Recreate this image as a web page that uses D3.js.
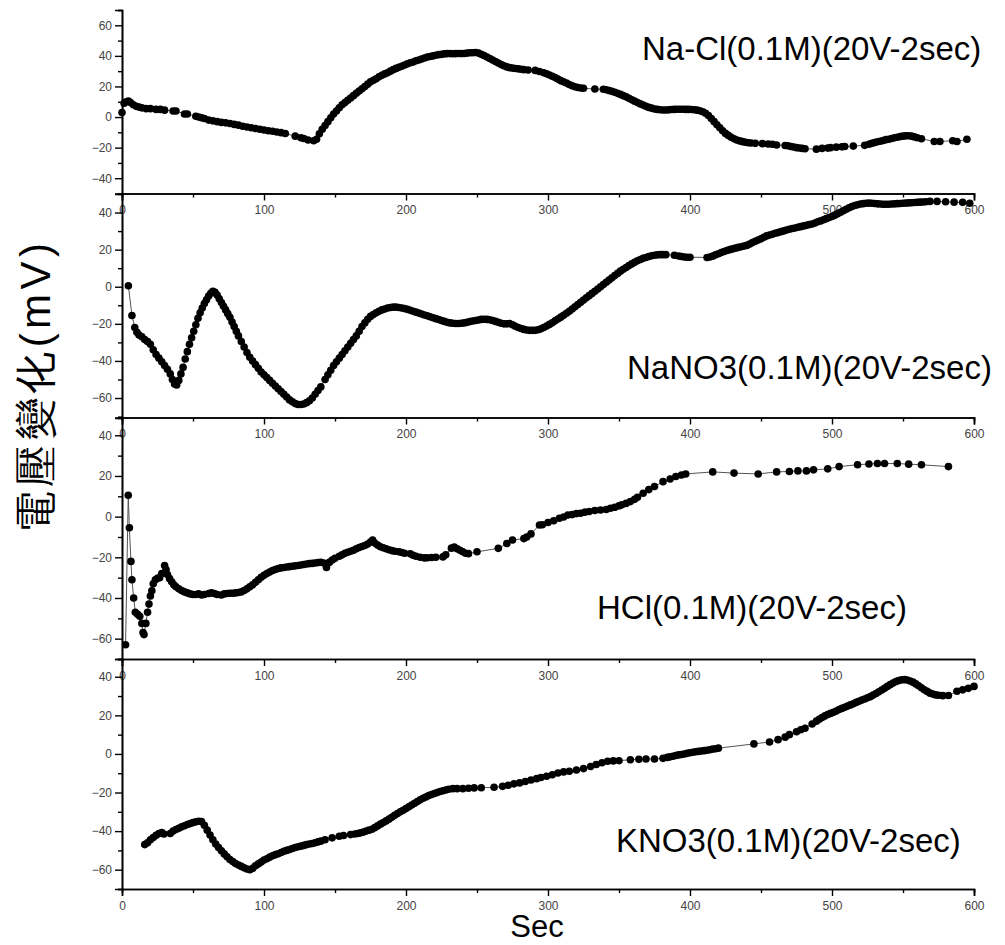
<!DOCTYPE html>
<html>
<head>
<meta charset="utf-8">
<script src="https://cdn.jsdelivr.net/npm/d3@7"></script>
<style>
  html, body { margin: 0; padding: 0; background: #fff; }
  svg { display: block; }
  text { font-family: "Liberation Sans", Arial, sans-serif; }
</style>
</head>
<body>
<svg id="chart" width="1005" height="945"></svg>
<script>
// ---------------- DATA ----------------
const seriesNames = ["Na-Cl(0.1M)(20V-2sec)", "NaNO3(0.1M)(20V-2sec)", "HCl(0.1M)(20V-2sec)", "KNO3(0.1M)(20V-2sec)"];
const xLabel = "Sec";
const yLabel = "電壓變化(mV)";
const xTicks = [0, 100, 200, 300, 400, 500, 600];
const xMinorTicks = [50, 150, 250, 350, 450, 550];
const yTicksTop = [-40, -20, 0, 20, 40, 60];
const yMinorTop = [-50, -30, -10, 10, 30, 50, 70];
const yTicksLower = [-60, -40, -20, 0, 20, 40];
const yMinorLower = [-70, -50, -30, -10, 10, 30];
const yDomains = [[-50, 70], [-70.5, 50], [-70, 48.5], [-70, 49.2]];

const nacl = [[0,3],[1.5,9],[3,10],[4.5,10.5],[6,9.5],[8,8],[10,7],[12,6.5],[14,6],[17,5.5],[20,5.5],[24,5],[27,5],[30,4.5],[36,4],[38,4],[44,2],[46,2],[52,0.5],[54,0],[56,-0.5],[58,-1],[61,-2],[64,-2.5],[67,-3],[70,-3.5],[73,-3.8],[76,-4.2],[79,-4.8],[82,-5.3],[85,-6],[88,-6.5],[91,-7],[94,-7.5],[97,-8],[100,-8.5],[103,-9],[106,-9.3],[109,-9.8],[112,-10.2],[115,-10.8],[122,-12.5],[126,-13.5],[128,-14],[131,-15],[135,-15.5],[137,-14.5],
[139,-11],[141,-8],[143,-5.5],[145,-3],[147,-0.5],[149,2],[151,4],[153,6],[155,8],[157,9.5],[159,11],[161,12.5],[163,14],[165,15.5],[167,17],[169,18.5],[171,20],[173,21.5],[175,23],[177,24],[179,25],[181,26.3],[183,27.3],[185,28.2],[187,29],[189,30],[191,31],[193,31.8],[195,32.5],[197,33.2],[199,34],[201,34.8],[203,35.5],[205,36],[207,36.8],[209,37.3],[211,38],[213,38.6],[215,39.2],[217,39.6],[219,40],[221,40.4],[223,40.8],[225,41],[227,41.3],[229,41.5],[231,41.5],[233,41.4],[235,41.5],[237,41.6],[239,41.5],[241,41.6],[243,41.8],[245,42],[247,42],[249,42.2],[251,41.8],[253,41],[255,40.2],[257,39.3],[259,38.3],[261,37.3],[263,36.3],[265,35.3],[267,34.3],[269,33.5],[271,32.8],[273,32.3],[275,32],[277,31.7],[279,31.5],[281,31.3],[283,31],[286,30.8],[291,30.5],[294,29.8],[297,29],[299,28.3],[301,27.5],[303,26.7],[305,25.8],[307,24.8],[309,23.8],[311,23],[313,22.2],[315,21.3],[317,20.5],[319,19.8],[321,19.3],[323,19],[325,18.8],[333,18.3],[339,18.2],[341,17.8],[343,17.3],[345,16.8],[347,16.2],[349,15.5],[351,14.8],[353,14],[355,13.2],[357,12.3],[359,11.3],[361,10.4],[363,9.5],[365,8.6],[367,7.8],[369,7],[371,6.3],[373,5.8],[375,5.3],[377,5],[379,4.8],[381,4.6],[383,4.6],[385,4.7],[387,4.9],[389,5],[391,5.1],[393,5.1],[395,5.1],[397,5],[399,5],[401,4.9],[403,4.8],[405,4.5],[407,4.1],[409,3.5],[411,2.5],[413,1],[415,-1],[417,-3],[419,-5],[421,-7],[423,-9],[425,-10.7],[427,-12],[429,-13.2],[431,-14.2],[433,-15],[435,-15.6],[437,-16.1],[439,-16.5],[441,-16.8],[443,-17],[446,-17.2],[451,-17.4],[455,-17.6],[458,-17.8],[461,-18.3],[467,-18.6],[469,-18.8],[471,-19.3],[473,-19.6],[475,-20],[477,-20.2],[479,-20.5],[481,-20.7],[489,-21],[493,-20.5],[497,-20.3],[499,-20],[503,-19.7],[507,-19.5],[509,-19.3],[515,-19],[523,-18.5],[526,-17.8],[528,-17.2],[530,-16.7],[532,-16.2],[534,-15.8],[536,-15.3],[538,-14.8],[540,-14.5],[542,-14],[544,-13.5],[546,-13.2],[548,-12.8],[550,-12.5],[552,-12.3],[554,-12.2],[556,-12.5],[558,-13],[560,-13.5],[563,-14.2],[572,-16],[576,-16],[585,-15.5],[588,-16],[595,-14.5]];

const nano3 = [[4.5,0.5],[7,-15.5],[9,-22],[10.5,-24.5],[12,-26],[14,-27],[16,-28.5],[18,-29.5],[20,-31],[22,-34],[24,-36.5],[26,-38.5],[28,-40.5],[30,-42.5],[32,-44.5],[34,-47],[35.5,-50],[37,-52.5],[38.5,-53],[40,-50.5],[41.5,-47],[43,-43.5],[44.5,-39],[46,-35],[47.5,-31],[49,-27.5],[50.5,-24],[52,-20.5],[53.5,-17],[55,-14],[56.5,-11.5],[58,-9],[59.5,-7],[61,-5],[62.5,-3.5],[64,-2.5],[65.5,-3],[67,-4.5],[68.5,-6.5],[70,-8.5],[71.5,-10.5],[73,-12.5],[74.5,-14.5],[76,-16.5],[77.5,-19],[79,-21.5],[80.5,-24],[82,-26.5],[84,-29.5],[86,-32.5],[88,-35.5],[90,-38],[92,-40],[94,-42],[96,-44],[98,-46],[100,-47.5],[102,-49],[104,-50.5],[106,-52],[108,-53.5],[110,-55],[112,-56.5],[114,-58],[116,-59.5],[118,-61],[120,-62],[122,-63],[124,-63.5],[126,-63.5],[128,-63.2],[130,-62.5],[132,-61.5],[134,-60],[136,-58],[138,-56],[140,-54],[143,-50],[145,-47.5],[147,-45],[149,-42.5],[151,-40.5],[153,-38.5],[155,-36.5],[157,-34.5],[159,-32.5],[161,-30.5],[163,-28.5],[165,-26.5],[167,-24],[169,-21.5],[171,-19.5],[173,-17.5],[175,-16],[177,-15],[179,-14],[181,-13.2],[183,-12.5],[185,-12],[187,-11.5],[189,-11.2],[191,-11],[193,-11],[195,-11.2],[197,-11.5],[199,-11.8],[201,-12.2],[203,-12.7],[205,-13.2],[207,-13.7],[209,-14.2],[211,-14.7],[213,-15.2],[215,-15.7],[217,-16.2],[219,-16.7],[221,-17.2],[223,-17.7],[225,-18.2],[227,-18.7],[229,-19.2],[231,-19.5],[233,-19.7],[235,-19.8],[237,-19.8],[239,-19.7],[241,-19.5],[243,-19.2],[245,-18.8],[247,-18.5],[249,-18.2],[251,-17.9],[253,-17.6],[255,-17.5],[257,-17.6],[259,-17.8],[261,-18.2],[263,-18.7],[265,-19.2],[267,-19.7],[269,-20],[271,-20],[273,-19.8],[275,-20.5],[277,-21.3],[279,-22],[281,-22.5],[283,-23],[285,-23.3],[287,-23.5],[289,-23.5],[291,-23.5],[293,-23.2],[295,-22.7],[297,-22],[299,-21.2],[301,-20.3],[303,-19.4],[305,-18.4],[307,-17.4],[309,-16.4],[311,-15.4],[313,-14.3],[315,-13.2],[317,-12],[319,-10.8],[321,-9.6],[323,-8.4],[325,-7.2],[327,-6],[329,-4.8],[331,-3.6],[333,-2.4],[335,-1.2],[337,0],[339,1.2],[341,2.4],[343,3.6],[345,4.8],[347,6],[349,7.2],[351,8.4],[353,9.4],[355,10.4],[357,11.4],[359,12.3],[361,13.2],[363,14],[365,14.7],[367,15.3],[369,15.8],[371,16.3],[373,16.7],[375,17],[377,17.2],[379,17.3],[381,17.3],[383,17.3],[389,17],[392,16.6],[394,16.3],[396,16],[398,15.9],[400,15.9],[412,15.8],[414,16],[416,16.5],[418,17.2],[420,17.8],[422,18.5],[424,19],[426,19.5],[428,20],[430,20.4],[432,20.8],[434,21.2],[436,21.6],[438,21.9],[440,22.3],[442,23],[444,23.8],[446,24.5],[448,25.2],[450,25.9],[452,26.7],[454,27.4],[456,27.9],[458,28.3],[460,28.8],[462,29.2],[464,29.7],[466,30.1],[468,30.6],[470,31],[472,31.4],[474,31.7],[476,32.1],[478,32.4],[480,32.8],[482,33.1],[484,33.5],[486,33.8],[488,34.4],[490,35],[492,35.5],[494,36.1],[496,36.7],[498,37.3],[500,37.9],[502,38.6],[504,39.4],[506,40.2],[508,41],[510,41.8],[512,42.6],[514,43.2],[516,43.8],[518,44.2],[520,44.6],[522,44.8],[524,45],[526,45.1],[528,45],[530,44.9],[532,44.7],[534,44.6],[536,44.5],[538,44.5],[540,44.5],[542,44.6],[544,44.7],[546,44.8],[548,44.9],[550,45],[552,45.1],[554,45.2],[556,45.3],[558,45.4],[560,45.5],[562,45.6],[564,45.7],[566,45.8],[569,46],[574,46],[580,45.8],[586,45.6],[592,45.5],[597,45]];

const hcl = [[2.5,-63],[4.4,10.5],[5.2,-5.5],[6.3,-22],[7,-31],[8.2,-40],[9.4,-47],[11,-48],[12.5,-49],[14,-52.5],[14.8,-57],[15.5,-58],[16.8,-52.5],[18,-47],[19,-43],[20,-39],[21,-36.5],[22,-33],[23.5,-31],[25,-30.3],[26.5,-30],[28,-28],[30,-24],[31,-26],[32,-28.5],[33.5,-30.5],[35,-32],[36.5,-33.5],[38,-34.5],[40,-35.5],[42,-36.3],[44,-37],[46,-37.5],[48,-38],[50,-38.3],[52,-38.3],[54,-38],[56,-38.5],[58,-38.3],[61,-37.8],[63,-37.5],[65,-37.8],[67,-38.3],[70,-38.5],[72,-38],[74,-37.8],[76,-37.7],[78,-37.7],[80,-37.5],[82,-37.3],[84,-37],[86,-36.3],[88,-35.5],[90,-34.5],[92,-33.5],[94,-32.3],[96,-31],[98,-29.8],[100,-28.8],[102,-28],[104,-27.2],[106,-26.5],[108,-26],[110,-25.5],[112,-25.2],[114,-25],[116,-24.8],[118,-24.6],[120,-24.4],[122,-24.2],[124,-24],[126,-23.8],[128,-23.5],[130,-23.3],[132,-23.1],[134,-23],[136,-22.8],[138,-22.6],[140,-22.4],[142,-22.8],[144,-25],[146,-22.5],[148,-21.3],[150,-20.5],[153,-19.5],[155,-18.8],[157,-18],[159,-17.5],[161,-17],[163,-16.5],[165,-15.8],[167,-15.2],[169,-14.7],[171,-14.2],[173,-13.5],[175,-12.5],[176.5,-11.5],[178,-13],[180,-14],[182,-14.8],[184,-15.3],[186,-15.8],[188,-16.3],[190,-16.7],[192,-17],[195,-17.3],[197,-17.6],[199,-18],[203,-18.3],[205,-19],[207,-19.5],[210,-20],[213,-20.3],[215,-20.2],[218,-20.1],[221,-20],[226,-19.8],[228,-18.8],[232,-15.5],[234,-15],[236,-15.8],[238,-16.5],[240,-17.3],[242,-18],[244,-18.2],[250,-17.3],[265,-15.6],[271,-13.2],[275,-11.5],[283,-10.8],[285,-10],[288,-8.5],[294,-4.1],[296,-4],[300,-2.9],[304,-2],[308,-0.8],[311,-0.2],[314,0.8],[317,1],[320,1.5],[323,1.7],[326,2.2],[329,2.5],[333,3],[337,3.3],[341,3.5],[344,4.1],[347,4.6],[350,5.3],[352,5.8],[355,6.5],[358,7.4],[361,8.5],[363,9.5],[367,11.5],[371,13.3],[375,14.8],[381,17.2],[386,18.5],[390,19.7],[394,20.5],[397,21],[416,22],[431,21.4],[448,21],[461,22],[470,22.2],[476,22.5],[482,22.5],[487,23],[497,23.5],[505,24.6],[518,25.5],[526,25.9],[532,26.1],[537,26.1],[546,26.1],[554,25.8],[563,25.5],[582,24.6]];

const kno3 = [[16,-47],[18,-46],[20,-44.5],[22,-43.3],[24,-42.2],[26,-41.3],[28,-40.7],[29.5,-41.5],[34,-41.2],[36,-40],[38,-39.2],[40,-38.5],[42,-37.8],[44,-37.2],[46,-36.6],[48,-36.1],[50,-35.6],[52,-35.2],[54,-34.9],[56,-35],[58,-37],[60,-39.5],[62,-42],[64,-44.5],[66,-46.7],[68,-48.5],[70,-50.2],[72,-51.8],[74,-53.3],[76,-54.7],[78,-55.8],[80,-56.8],[82,-57.6],[84,-58.3],[86,-59],[88,-59.6],[90,-60],[92,-59.3],[94,-58],[96,-57],[98,-56],[100,-55],[102,-54.3],[104,-53.5],[106,-52.8],[108,-52.2],[110,-51.7],[112,-51.1],[114,-50.5],[116,-50],[118,-49.5],[120,-49],[122,-48.5],[124,-48.1],[126,-47.8],[128,-47.4],[130,-47],[132,-46.7],[134,-46.4],[136,-46],[138,-45.6],[140,-45.2],[143,-44.5],[148,-43.5],[153,-42.7],[156,-42.3],[161,-41.8],[164,-41.5],[166,-41.2],[168,-40.9],[170,-40.5],[172,-40],[174,-39.5],[176,-39],[178,-38.2],[180,-37.3],[182,-36.4],[184,-35.6],[186,-34.7],[188,-33.8],[190,-32.8],[192,-31.8],[194,-30.9],[196,-30],[198,-29.2],[200,-28.3],[202,-27.4],[204,-26.5],[206,-25.6],[208,-24.7],[210,-23.8],[212,-23],[214,-22.3],[216,-21.6],[218,-21],[220,-20.5],[222,-20],[224,-19.5],[226,-19.1],[228,-18.7],[230,-18.3],[233,-18],[236,-18],[240,-18],[244,-17.8],[248,-17.6],[253,-17.5],[262,-17.3],[268,-16.8],[272,-16.2],[276,-15.5],[280,-15],[284,-14.3],[288,-13.5],[292,-12.8],[295,-12.2],[299,-11.6],[303,-10.8],[307,-9.9],[311,-9.3],[315,-9],[320,-8.3],[325,-7.6],[330,-6.5],[334,-5.5],[338,-4.6],[342,-3.8],[346,-3.6],[350,-3.5],[358,-3],[364,-2.8],[369,-2.6],[375,-2.6],[381,-2.3],[384,-1.8],[386,-1.5],[388,-1.2],[390,-0.8],[392,-0.5],[394,-0.3],[396,0],[398,0.3],[400,0.6],[402,0.9],[404,1.1],[406,1.3],[408,1.5],[410,1.7],[412,1.9],[414,2.2],[416,2.5],[418,2.7],[420,3],[445,5.2],[456,6.2],[462,7.4],[467,8.7],[470,10],[475,11.5],[478,12.5],[481,13.3],[486,15.5],[489,17],[491,18],[493,18.9],[495,19.7],[497,20.4],[499,21],[501,21.6],[503,22.2],[505,23],[507,23.6],[509,24.2],[511,24.8],[513,25.4],[515,26],[517,26.7],[519,27.3],[521,27.9],[523,28.5],[525,29.1],[527,29.7],[529,30.5],[531,31.3],[533,32.2],[535,33.1],[537,34],[539,35],[541,35.9],[543,36.8],[545,37.5],[547,38],[549,38.4],[551,38.5],[553,38.3],[555,37.8],[557,37.2],[559,36.3],[561,35.3],[563,34.3],[565,33.3],[567,32.4],[569,31.5],[571,31],[573,30.6],[575,30.4],[578,30.2],[582,30.3],[588,32.5],[592,33.2],[596,34],[600,35]];

// ---------------- LAYOUT ----------------
const seriesData = [nacl, nano3, hcl, kno3];
const panels = [
  { top: 10,  bottom: 193.5, yTicks: yTicksTop,   yMinor: yMinorTop,   lx: 642, ly: 59.5 },
  { top: 194, bottom: 417.5, yTicks: yTicksLower, yMinor: yMinorLower, lx: 627, ly: 379 },
  { top: 418, bottom: 659,   yTicks: yTicksLower, yMinor: yMinorLower, lx: 597, ly: 619 },
  { top: 659, bottom: 889,   yTicks: yTicksLower, yMinor: yMinorLower, lx: 616, ly: 852 }
];

const svg = d3.select("#chart");
svg.append("rect").attr("width", 1005).attr("height", 945).attr("fill", "#fff");

const x = d3.scaleLinear().domain([0, 600]).range([122, 974]);

panels.forEach((p, i) => {
  const y = d3.scaleLinear().domain(yDomains[i]).range([p.bottom, p.top]);
  const g = svg.append("g");

  // connecting line
  const line = d3.line().x(d => x(d[0])).y(d => y(d[1]));
  g.append("path").datum(seriesData[i])
    .attr("d", line).attr("fill", "none")
    .attr("stroke", "#555").attr("stroke-width", 1);

  // markers
  g.selectAll("circle").data(seriesData[i]).enter().append("circle")
    .attr("cx", d => x(d[0])).attr("cy", d => y(d[1]))
    .attr("r", 3.8).attr("fill", "#000");

  // y axis (major + minor)
  const yAx = g.append("g").attr("transform", `translate(${x(0)},0)`)
    .call(d3.axisLeft(y).tickValues(p.yTicks).tickSize(7).tickPadding(3).tickFormat(d3.format("d")));
  const yMin = g.append("g").attr("transform", `translate(${x(0)},0)`)
    .call(d3.axisLeft(y).tickValues(p.yMinor).tickSize(4).tickFormat(""));
  [yAx, yMin].forEach(a => {
    a.select(".domain").attr("stroke", "#000").attr("stroke-width", 1.6);
    a.selectAll(".tick line").attr("stroke", "#000").attr("stroke-width", 1.4);
  });
  yAx.selectAll(".tick text").attr("font-size", 12).attr("fill", "#444")
    .attr("font-family", '"Liberation Sans", Arial, sans-serif');

  // x axis (major + minor)
  const xAx = g.append("g").attr("transform", `translate(0,${p.bottom})`)
    .call(d3.axisBottom(x).tickValues(xTicks).tickSize(7).tickPadding(5).tickFormat(d3.format("d")));
  const xMin = g.append("g").attr("transform", `translate(0,${p.bottom})`)
    .call(d3.axisBottom(x).tickValues(xMinorTicks).tickSize(4).tickFormat(""));
  [xAx, xMin].forEach(a => {
    a.select(".domain").attr("stroke", "#000").attr("stroke-width", 1.6);
    a.selectAll(".tick line").attr("stroke", "#000").attr("stroke-width", 1.4);
  });
  xAx.selectAll(".tick text").attr("font-size", 12).attr("fill", "#444")
    .attr("font-family", '"Liberation Sans", Arial, sans-serif');

  // series label
  svg.append("text").attr("x", p.lx).attr("y", p.ly)
    .attr("font-size", 33).attr("fill", "#000")
    .text(seriesNames[i]);
});

// axis titles
svg.append("text").attr("x", 537).attr("y", 937).attr("text-anchor", "middle")
  .attr("font-size", 31).attr("fill", "#000").text(xLabel);

svg.append("text")
  .attr("transform", "translate(50,388) rotate(-90)")
  .attr("text-anchor", "middle")
  .attr("font-size", 42)
  .attr("textLength", 290)
  .attr("lengthAdjust", "spacing")
  .attr("font-family", '"Noto Sans CJK TC", "Noto Sans CJK SC", sans-serif')
  .attr("fill", "#000").text(yLabel);
</script>
</body>
</html>
